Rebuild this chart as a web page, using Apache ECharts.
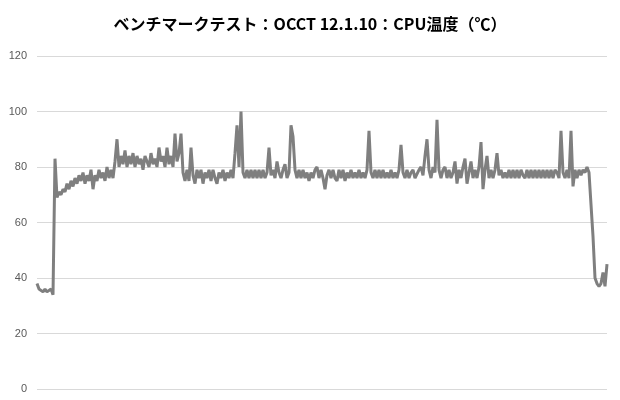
<!DOCTYPE html>
<html>
<head>
	<meta charset="utf-8">
	<title>OCCT CPU温度</title>
	<style type="text/css">
		*{ padding: 0; margin: 0; }
		body{ background: #fff; }
		#chart{ width: 620px; height: 400px; }
	</style>
</head>
<body>
<div id="chart"></div>
<script type="text/javascript" src="https://cdn.jsdelivr.net/npm/echarts@6/dist/echarts.min.js"></script>
<script type="text/javascript">
	// CPU温度 (℃) を読み取った値、左から順に
	var temps = [
		38,36,36,35,36,35,35,36,34,83,
		69,71,70,72,71,74,72,75,73,76,
		74,77,75,78,74,77,75,79,72,77,
		75,79,76,78,75,80,76,79,76,82,
		90,80,84,81,86,80,84,81,85,80,
		84,81,83,79,84,82,80,85,81,83,
		80,87,82,84,80,87,81,84,80,92,
		82,85,92,78,75,79,75,87,77,74,
		79,76,79,74,78,76,79,75,79,76,
		74,78,76,79,75,78,76,79,76,85,
		95,80,100,78,76,79,76,79,76,79,
		76,79,76,79,76,78,87,77,79,76,
		82,78,76,79,81,76,78,95,91,79,
		76,79,76,79,76,78,75,78,76,79,
		80,76,79,76,72,77,79,76,79,76,
		75,79,76,79,75,78,76,79,76,78,
		76,79,76,78,76,79,93,78,76,79,
		76,79,76,79,76,78,76,79,76,78,
		76,79,88,78,76,79,76,78,79,76,
		76,79,80,77,84,90,79,76,80,78,
		97,79,76,79,80,76,79,76,78,82,
		74,79,76,80,83,74,78,82,76,79,
		76,80,89,72,79,84,76,79,76,79,
		85,77,79,76,78,76,79,76,79,76,
		79,76,79,77,76,79,76,79,76,79,
		76,79,76,79,76,79,76,79,76,79,
		78,76,93,78,76,79,76,93,73,79,
		76,79,77,79,78,80,78,78,55,40,
		38,37,38,42,37,45
	];
	var categories = temps.map(function(v, i) { return i + 1; });
	var yTicks = [0, 20, 40, 60, 80, 100, 120];

	var chart = echarts.init(document.getElementById('chart'));
	var option = {
		animation: false,
		title: {
			text: 'ベンチマークテスト：OCCT 12.1.10：CPU温度（℃）',
			left: 'center',
			top: 11,
			textStyle: {
				fontFamily: '"Noto Sans CJK JP", "Noto Sans", sans-serif',
				fontSize: 16,
				fontWeight: 'bold',
				color: '#000'
			}
		},
		grid: {
			left: 37,
			right: 13,
			top: 56,
			bottom: 11
		},
		xAxis: {
			type: 'category',
			boundaryGap: false,
			data: categories,
			axisLine: { show: false },
			axisTick: { show: false },
			axisLabel: { show: false },
			splitLine: { show: false }
		},
		yAxis: {
			type: 'value',
			min: yTicks[0],
			max: yTicks[yTicks.length - 1],
			interval: 20,
			axisLine: { show: false },
			axisTick: { show: false },
			axisLabel: {
				margin: 10,
				color: '#595959',
				fontSize: 11,
				fontFamily: '"Liberation Sans", Arial, sans-serif'
			},
			splitLine: {
				lineStyle: { color: '#d9d9d9', width: 1 }
			}
		},
		series: [{
			type: 'line',
			data: temps,
			symbol: 'none',
			lineStyle: { color: '#7f7f7f', width: 3 },
			itemStyle: { color: '#7f7f7f' }
		}]
	};
	chart.setOption(option);
</script>
</body>
</html>
